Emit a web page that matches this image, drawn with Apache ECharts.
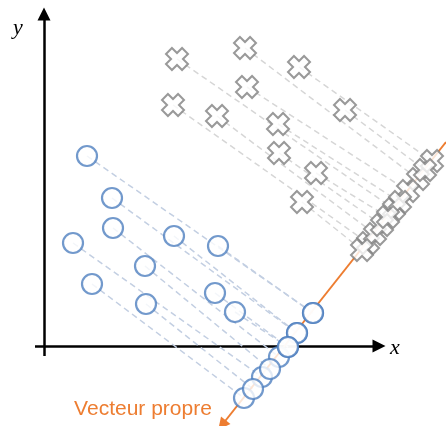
<!DOCTYPE html>
<html>
<head>
<meta charset="utf-8">
<script src="https://cdn.jsdelivr.net/npm/echarts@6/dist/echarts.min.js"></script>
<style>
  html, body { margin: 0; padding: 0; background: #fff; }
  #chart { width: 446px; height: 426px; }
</style>
</head>
<body>
<div id="chart"></div>
<script>
// points (x to the right, y downward)
var circlePts = [[87,156],[112,198],[113,228],[73,243],[174,236],[218,246],[145,266],[92,284],[146,304],[215,293],[235,312]];
var circleProj = [[313,313],[297,333],[279,357],[262,377],[297,333],[313,313],[270,369],[244,398],[253,389],[288,347],[288,347]];
var crossPts = [[177,59],[245,48],[299,67],[173,105],[217,116],[247,87],[345,110],[278,124],[279,153],[316,173],[302,202]];
var crossProj = [[394,209],[418,179],[432,161],[368,243],[375,234],[408,191],[425,170],[400,202],[382,225],[388,217],[362,250]];
var eigenLine = [[446,142],[222,425]];
var axisX = [[35,346],[379,346]];
var axisY = [[44,356],[44,14]];

var crossPath = 'path://M2.7,0 L5,2.3 L7.3,0 L10,2.7 L7.7,5 L10,7.3 L7.3,10 L5,7.7 L2.7,10 L0,7.3 L2.3,5 L0,2.7 Z';

function pairs(from, to) {
	var out = [];
	for (var i = 0; i < from.length; i++) {
		out.push({ coords: [from[i], to[i]] });
	}
	return out;
}

var chart = echarts.init(document.getElementById('chart'));
chart.setOption({
	animation: false,
	grid: { left: 0, right: 0, top: 0, bottom: 0 },
	xAxis: { type: 'value', min: 0, max: 446, show: false },
	yAxis: { type: 'value', min: 0, max: 426, inverse: true, show: false },
	series: [
		{
			// axes
			type: 'lines', coordinateSystem: 'cartesian2d', z: 1,
			symbol: ['none', 'triangle'], symbolSize: [10, 13],
			lineStyle: { color: '#000', width: 2.5, opacity: 1 },
			data: [{ coords: axisX }, { coords: axisY }]
		},
		{
			// projection dashes, circles
			type: 'lines', coordinateSystem: 'cartesian2d', z: 2,
			symbol: 'none',
			lineStyle: { color: '#c3cfe2', width: 1.5, type: [6, 4], opacity: 1 },
			data: pairs(circlePts, circleProj)
		},
		{
			// projection dashes, crosses
			type: 'lines', coordinateSystem: 'cartesian2d', z: 2,
			symbol: 'none',
			lineStyle: { color: '#d6d6d6', width: 1.5, type: [6, 4], opacity: 1 },
			data: pairs(crossPts, crossProj)
		},
		{
			// vecteur propre
			type: 'lines', coordinateSystem: 'cartesian2d', z: 3,
			symbol: ['none', 'triangle'], symbolSize: [10, 12],
			lineStyle: { color: '#ED7D31', width: 2, opacity: 1 },
			data: [{ coords: eigenLine }]
		},
		{
			type: 'scatter', z: 5, symbol: 'circle', symbolSize: 20,
			itemStyle: { color: '#fff', borderColor: '#4F7FBF', borderWidth: 2.2 },
			data: circlePts.concat(circleProj)
		},
		{
			type: 'scatter', z: 5, symbol: crossPath, symbolSize: 22,
			itemStyle: { color: '#fff', borderColor: '#7f7f7f', borderWidth: 2 },
			data: crossPts.concat(crossProj)
		}
	],
	graphic: [
		{ type: 'text', x: 18, y: 28, style: { text: 'y', fill: '#000', font: 'italic 22px "Liberation Serif"', align: 'center', verticalAlign: 'middle' } },
		{ type: 'text', x: 395, y: 348, style: { text: 'x', fill: '#000', font: 'italic 22px "Liberation Serif"', align: 'center', verticalAlign: 'middle' } },
		{ type: 'text', x: 143, y: 409, style: { text: 'Vecteur propre', fill: '#ED7D31', font: '21px "Liberation Sans"', align: 'center', verticalAlign: 'middle' } }
	]
});
</script>
</body>
</html>
